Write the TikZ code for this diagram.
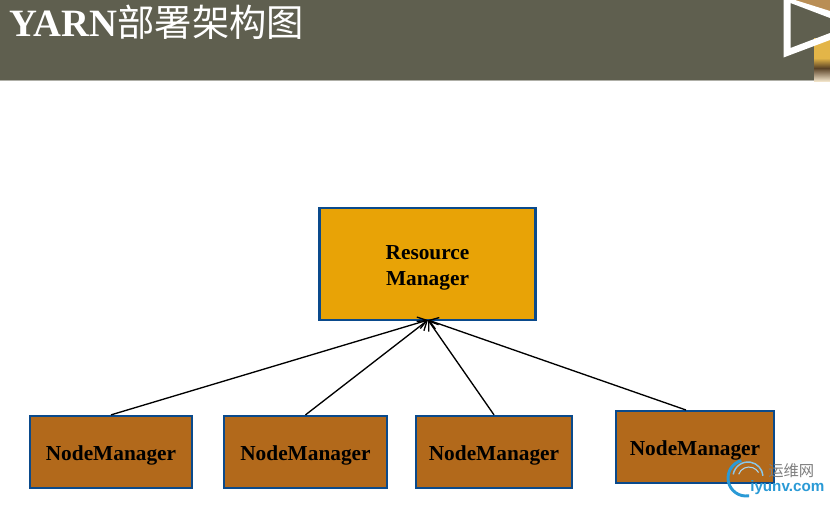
\documentclass[tikz,border=0pt]{standalone}
\usepackage{fontspec}
\setmainfont{Liberation Serif}
\newfontfamily\cjk{Noto Sans CJK SC}
\newfontfamily\wmfont{Liberation Sans}
\usetikzlibrary{arrows.meta}
\definecolor{band}{HTML}{5F5F4F}
\definecolor{rmfill}{HTML}{E8A306}
\definecolor{nmfill}{HTML}{B2691B}
\definecolor{edgeblue}{HTML}{0A4A8C}
\definecolor{wmblue}{HTML}{2A9AD6}
\definecolor{wmgrey}{HTML}{7F7F7F}
\definecolor{goldtop}{HTML}{E3B548}
\definecolor{golddark}{HTML}{5A4226}
\definecolor{cream}{HTML}{F0E2C8}
\definecolor{tan}{HTML}{B98E55}
\newcommand{\nmlabel}{\raisebox{-6pt}[0pt][0pt]{NodeManager}}
\tikzset{
  px/.style={x=0.75pt,y=-0.75pt},
  rmbox/.style={draw=edgeblue,fill=rmfill,line width=1.7pt,minimum width=162pt,minimum height=84pt,align=center,font=\fontsize{16}{19.5}\selectfont\bfseries,inner sep=0pt},
  nmbox/.style={draw=edgeblue,fill=nmfill,line width=1.7pt,minimum height=54pt,font=\fontsize{16}{18}\selectfont\bfseries,inner sep=0pt},
  link/.style={draw=black,line width=1pt,-{Straight Barb[length=6.5pt,width=9pt,line width=1pt]}}
}
\begin{document}
\begin{tikzpicture}[px]
\useasboundingbox (0,0) rectangle (830,504);
\fill[white] (0,0) rectangle (830,504);
\fill[band] (0,0) rectangle (830,79.5);
\fill[band!50!white] (0,79.5) rectangle (814,81);
% picture corner
\fill[tan] (790,0) -- (830,0) -- (830,14) -- cycle;
\fill[goldtop] (814,38) rectangle (830,58);
\shade[top color=goldtop, bottom color=golddark] (814,58) rectangle (830,68);
\shade[top color=golddark, bottom color=cream] (814,68) rectangle (830,81);
% triangle
\fill[white] (783.5,0) -- (795,0) -- (830,11) -- (830,18) -- (790.5,3) -- (790.5,48) -- (830,33) -- (830,40) -- (783.5,57.5) -- cycle;
\node[anchor=base west,text=white,font=\fontsize{29}{32}\selectfont\bfseries,inner sep=0pt] (title) at (9,36.5) {YARN{\cjk\mdseries\fontsize{28}{32}\selectfont 部署架构图}};
\node[rmbox] (rm) at (427.5,264) {\rule{0pt}{17pt}Resource\\Manager};
\node[nmbox,minimum width=121pt] (n1) at (111,452) {\nmlabel};
\node[nmbox,minimum width=122pt] (n2) at (305.5,452) {\nmlabel};
\node[nmbox,minimum width=117pt] (n3) at (494,452) {\nmlabel};
\node[nmbox,minimum width=118pt] (n4) at (695,447) {\nmlabel};
\coordinate (tip) at (428,320);
\coordinate (n4top) at (686,410);
\draw[link] (n1.north) -- (tip);
\draw[link] (n2.north) -- (tip);
\draw[link] (n3.north) -- (tip);
\draw[link] (n4top) -- (tip);
% watermark
\draw[wmblue,line width=2.2pt] (746,478) ++(80:18) arc[start angle=80,end angle=255,radius=18];
\draw[wmblue!55,line width=1.1pt] (748,477) ++(190:15) arc[start angle=190,end angle=355,radius=15];
\draw[wmblue!40,line width=0.8pt] (749,478) ++(200:11) arc[start angle=200,end angle=330,radius=11];
\node[anchor=west,text=wmgrey,font=\cjk\fontsize{11.5}{14}\selectfont,inner sep=0pt] (wm1) at (768,471) {运维网};
\node[anchor=west,text=wmblue,font=\wmfont\bfseries\fontsize{11.4}{14}\selectfont,inner sep=0pt] (wm2) at (750,488) {iyunv.com};
\end{tikzpicture}
\end{document}
